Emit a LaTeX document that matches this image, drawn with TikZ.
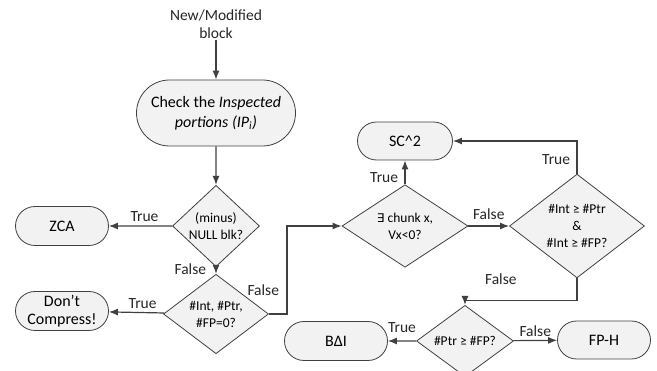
\documentclass[tikz,border=0pt]{standalone}
\usepackage{fontspec}
\setmainfont{Carlito}
\newfontfamily\symfont{DejaVu Sans}
\usetikzlibrary{shapes.geometric,shapes.misc,arrows.meta}
\definecolor{linegray}{HTML}{404040}
\definecolor{boxfill}{HTML}{F2F2F2}
\tikzset{
  term/.style={rounded rectangle, draw=linegray, fill=boxfill, line width=0.8pt,
    minimum width=97pt, minimum height=39pt, align=center, inner sep=2pt,
    font=\fontsize{16}{18.5}\selectfont},
  decision/.style={diamond, draw=linegray, fill=boxfill, line width=0.8pt,
    align=center, inner sep=0pt, font=\fontsize{13.5}{17}\selectfont},
  flow/.style={draw=linegray, line width=1.2pt, -{Latex[length=9pt,width=7pt]}},
  lbl/.style={font=\fontsize{15.5}{18}\selectfont, text=black!85}
}
\begin{document}
\begin{tikzpicture}[x=1pt,y=-1pt]
\useasboundingbox (0,0) rectangle (657,371);
\node[lbl, align=center, inner sep=1pt] (in) at (216,24) {New/Modified\\block};
\node[term, minimum width=163pt, minimum height=66pt, font=\fontsize{16}{20}\selectfont] (check) at (216,113)
  {Check the \textit{Inspected}\\\textit{portions (IP\textsubscript{i})}};
\node[decision, minimum width=87pt, minimum height=62pt] (d1) at (216,226) {(minus)\\NULL blk?};
\node[decision, minimum width=105pt, minimum height=58pt] (d2) at (216,314) {\#Int, \#Ptr,\\\#FP=0?};
\node[decision, minimum width=126pt, minimum height=59pt] (d3) at (405,226) {{\symfont\fontsize{12}{14}\selectfont ∃} chunk x,\\Vx<0?};
\node[decision, minimum width=135pt, minimum height=101pt] (d4) at (577,226) {\#Int ≥ \#Ptr\\\&\\\#Int ≥ \#FP?};
\node[decision, minimum width=97pt, minimum height=58pt] (d5) at (465,341) {\#Ptr ≥ \#FP?};
\node[term] (zca) at (62,226) {ZCA};
\node[term] (dont) at (62,311) {Don’t\\Compress!};
\node[term, minimum width=99pt, minimum height=38pt] (sc) at (405,141) {SC\textasciicircum 2};
\node[term, minimum width=107pt] (bdi) at (336,341) {BΔI};
\node[term, minimum height=38pt] (fph) at (604,340) {FP-H};

\draw[flow] (in) -- (check);
\draw[flow] (check) -- (d1);
\draw[flow] (d1) -- (zca) node[lbl, midway, above, xshift=4pt] {True};
\draw[flow] (d1) -- (d2) node[lbl, pos=.35, left, xshift=-6pt] {False};
\draw[flow] (d2) -- (dont) node[lbl, midway, above, xshift=6pt] {True};
\draw[flow] (d2.east) -- ++(18,0) node[lbl, anchor=south east, xshift=-4pt, yshift=14pt] {False} |- (d3.west);
\draw[flow] (d3) -- (sc) node[lbl, midway, left, xshift=-3pt, yshift=-5pt] {True};
\draw[flow] (d3) -- (d4) node[lbl, midway, above, yshift=2pt] {False};
\draw[flow] (d4.north) |- (sc.east) node[lbl, pos=.22, left, xshift=-3pt] {True};
\draw[flow] (d4.south) -- ++(0,22) -| (d5.north) node[lbl, pos=.34, above, yshift=12pt] {False};
\draw[flow] (d5) -- (bdi) node[lbl, midway, above, yshift=4pt] {True};
\draw[flow] (d5) -- (fph) node[lbl, midway, above] {False};
\end{tikzpicture}
\end{document}
